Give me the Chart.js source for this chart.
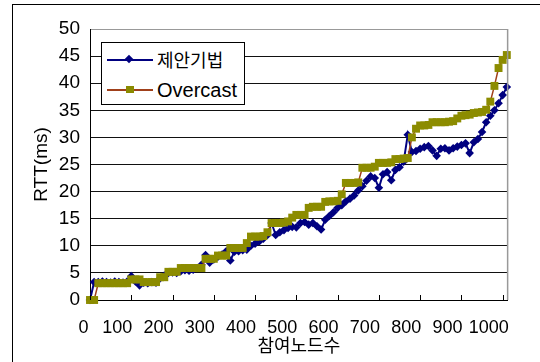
<!DOCTYPE html>
<html>
<head>
<meta charset="utf-8">
<script src="https://cdn.jsdelivr.net/npm/chart.js@4.4.1/dist/chart.umd.min.js"></script>
<style>
  html, body { margin: 0; padding: 0; background: #fff; overflow: hidden; }
  #wrap { position: relative; width: 540px; height: 362px; }
  #frame { position: absolute; left: 12px; top: 4px; width: 600px; height: 400px;
           border-left: 1px solid #000; border-top: 1px solid #000; pointer-events: none; }
  canvas { position: absolute; left: 0; top: 0; }
  #legend { position: absolute; left: 101px; top: 42px; width: 142px; height: 61px;
            border: 1px solid #000; background: #fff; font-family: "Liberation Sans", Arial, sans-serif; }
  .row { position: absolute; left: 0; width: 142px; height: 30px; }
  .ln { position: absolute; left: 5px; width: 46px; height: 2px; top: 14px; }
  .mk { position: absolute; }
  .tx { position: absolute; left: 55px; top: 3px; font-size: 20px; line-height: 24px; color: #000; white-space: nowrap; }
</style>
</head>
<body>
<div id="wrap">
  <canvas id="c" width="540" height="362"></canvas>
  <div id="frame"></div>
  <div id="legend">
    <div class="row" style="top:2px">
      <div class="ln" style="background:#000080"></div>
      <div class="mk" style="left:24px;top:11px;width:6px;height:6px;background:#000080;transform:rotate(45deg)"></div>
      <div class="tx" style="font-family:'Noto Sans CJK KR';font-size:18px;top:2px">제안기법</div>
    </div>
    <div class="row" style="top:32px">
      <div class="ln" style="background:#a0401a"></div>
      <div class="mk" style="left:24px;top:11px;width:8px;height:7px;background:#8a8a00"></div>
      <div class="tx">Overcast</div>
    </div>
  </div>
</div>
<script>
const nodes = [0,10,20,30,40,50,60,70,80,90,100,110,120,130,140,150,160,170,180,190,200,210,220,230,240,250,260,270,280,290,300,310,320,330,340,350,360,370,380,390,400,410,420,430,440,450,460,470,480,490,500,510,520,530,540,550,560,570,580,590,600,610,620,630,640,650,660,670,680,690,700,710,720,730,740,750,760,770,780,790,800,810,820,830,840,850,860,870,880,890,900,910,920,930,940,950,960,970,980,990,1000,1010];
const proposed = [0,3.3,3.3,3.4,3.3,3.2,3.4,3.3,3.2,3.4,4.4,3.4,2.7,3.2,3.1,3.3,3.2,4.0,4.5,5.0,5.1,5.0,5.3,5.5,5.4,5.6,5.9,6.5,8.3,6.9,7.5,8.0,8.4,9.0,7.3,8.9,9.0,9.2,9.3,10.0,10.4,10.8,11.3,12.0,14.2,12.0,12.5,12.9,13.3,13.5,13.4,14.2,14.4,13.9,14.2,13.6,13.0,14.8,15.5,16.2,17.0,17.5,18.2,18.7,19.3,20.2,21.0,22.0,22.8,22.5,20.7,23.2,23.6,22.1,24.0,24.5,25.5,30.5,27.3,27.5,27.9,28.2,28.4,27.6,26.6,27.9,28.0,27.6,28.0,28.3,28.6,28.9,27.1,29.1,29.7,31.0,32.8,34.0,35.0,36.3,37.8,39.3];
const overcast = [0,0,3.1,3.1,3.1,3.1,3.1,3.1,3.1,3.1,3.8,3.8,3.8,3.3,3.3,3.3,3.3,4.2,4.2,5.2,5.2,5.2,5.9,5.9,5.9,5.9,5.9,5.9,7.6,7.6,7.6,8.2,8.2,8.2,9.6,9.6,9.6,9.6,10.5,11.7,11.7,11.7,11.8,12.5,14.2,14.2,14.2,14.3,14.5,15.2,15.7,15.7,15.7,17.0,17.2,17.2,17.2,18.1,18.2,18.2,18.3,19.5,21.6,21.6,21.6,21.7,24.4,24.4,24.4,24.6,25.3,25.3,25.3,25.4,26.0,26.0,26.1,26.2,30.0,31.6,32.2,32.2,32.3,32.8,32.8,32.8,32.8,32.9,33.0,33.5,34.0,34.1,34.2,34.5,34.6,34.7,35.1,36.6,39.5,42.8,44.3,45.2];
const xTicks = [0,100,200,300,400,500,600,700,800,900,1000];
const yMin = 0, yMax = 50, yStep = 5;

const innerTicks = {
  id: 'innerTicks',
  afterDraw(chart) {
    const {ctx, chartArea} = chart;
    const xs = chart.scales.x;
    ctx.save();
    ctx.strokeStyle = '#000';
    ctx.lineWidth = 1;
    xs.ticks.forEach(t => {
      const px = Math.round(xs.getPixelForValue(t.value)) + 0.5;
      ctx.beginPath();
      ctx.moveTo(px, chartArea.bottom);
      ctx.lineTo(px, chartArea.bottom - 5);
      ctx.stroke();
    });
    ctx.strokeStyle = '#999';
    ctx.lineWidth = 1.5;
    ctx.beginPath();
    ctx.moveTo(chartArea.right, chartArea.top);
    ctx.lineTo(chartArea.right, chartArea.bottom);
    ctx.stroke();
    ctx.restore();
  }
};

new Chart(document.getElementById('c'), {
  type: 'line',
  data: {
    datasets: [
      {
        label: 'Overcast',
        data: nodes.map((n, i) => ({x: n, y: overcast[i]})),
        borderColor: '#a0401a',
        borderWidth: 1.5,
        backgroundColor: '#8c8c00',
        pointStyle: 'rect',
        pointRadius: 5.6,
        pointBorderWidth: 0,
        pointBackgroundColor: '#8c8c00',
        tension: 0,
        clip: false,
        order: 0
      },
      {
        label: '제안기법',
        data: nodes.map((n, i) => ({x: n, y: proposed[i]})),
        borderColor: '#000080',
        borderWidth: 2,
        backgroundColor: '#000080',
        pointStyle: 'rectRot',
        pointRadius: 4.3,
        pointBorderWidth: 0,
        pointBackgroundColor: '#000080',
        tension: 0,
        clip: false,
        order: 1
      }
    ]
  },
  options: {
    responsive: false,
    animation: false,
    events: [],
    layout: { padding: { left: 0, right: 25, top: 29, bottom: 0 } },
    plugins: { legend: { display: false }, tooltip: { enabled: false } },
    scales: {
      x: {
        type: 'linear',
        min: 0,
        max: 1012,
        afterFit: s => { s.height = 62; },
        afterBuildTicks: s => { s.ticks = xTicks.map(v => ({value: v})); },
        ticks: {
          includeBounds: false,
          stepSize: 100,
          autoSkip: false,
          maxRotation: 0,
          padding: 17,
          labelOffset: -14,
          color: '#000',
          font: { family: 'Liberation Sans', size: 18 },
          callback: v => v === 0 ? '   0' : String(v)
        },
        grid: { drawOnChartArea: false, drawTicks: false },
        border: { display: true, color: '#000', width: 1 },
        title: {
          display: true,
          text: '참여노드수',
          color: '#000',
          font: { family: 'Noto Sans CJK KR', size: 18 },
          padding: { top: 0, bottom: 6 }
        }
      },
      y: {
        min: yMin,
        max: yMax,
        afterFit: s => { s.width = 90; },
        ticks: {
          stepSize: yStep,
          padding: 10,
          color: '#000',
          font: { family: 'Liberation Sans', size: 19 }
        },
        grid: {
          drawTicks: false,
          color: c => (c.tick && c.tick.value === yMax) ? '#999' : '#111',
          lineWidth: 1
        },
        border: { display: true, color: '#000', width: 1 },
        title: {
          display: true,
          text: 'RTT(ms)',
          color: '#000',
          font: { family: 'Liberation Sans', size: 19 },
          padding: { top: 30.6, bottom: 0 }
        }
      }
    }
  },
  plugins: [innerTicks]
});
</script>
</body>
</html>
